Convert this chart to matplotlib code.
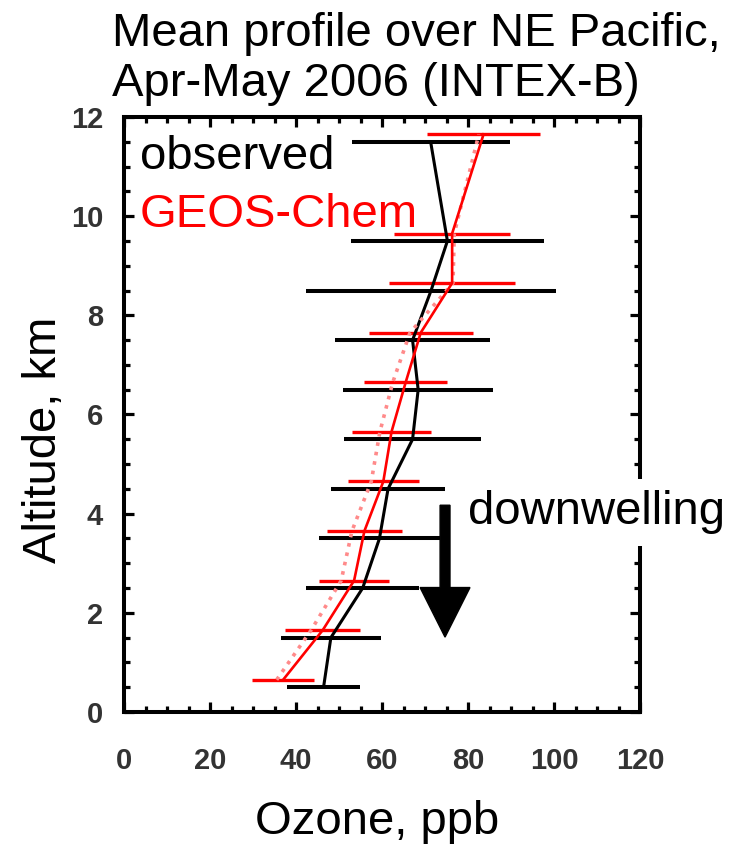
"""Mean ozone profile over the NE Pacific, observed vs GEOS-Chem (INTEX-B)."""

import matplotlib

matplotlib.use("Agg")
import matplotlib.pyplot as plt
import numpy as np
from matplotlib.ticker import MultipleLocator

# altitude bins, km
altitude = [0.5, 1.5, 2.5, 3.5, 4.5, 5.5, 6.5, 7.5, 8.5, 9.5, 11.5]

# observed ozone, ppb (mean and standard deviation)
obs_mean = [46.4, 48.1, 55.5, 59.4, 61.4, 67.1, 68.4, 67.1, 71.4, 75.2, 71.3]
obs_std = [8.5, 11.6, 13.1, 14.1, 13.3, 15.9, 17.4, 18.0, 29.0, 22.4, 18.4]

# GEOS-Chem ozone, ppb
model_mean = [37.0, 46.2, 53.5, 55.9, 60.3, 62.2, 65.5, 69.0, 76.3, 76.3, 83.6]
model_std = [7.2, 8.7, 8.1, 8.7, 8.3, 9.2, 9.7, 12.1, 14.7, 13.5, 13.2]
model_alt_mean = [35.5, 43.5, 50.5, 53.0, 57.5, 59.5, 62.5, 66.5, 76.5, 76.8, 82.5]

x_ticks = [0, 20, 40, 60, 80, 100, 120]
y_ticks = [0, 2, 4, 6, 8, 10, 12]

MODEL_SHIFT = 0.15  # small vertical offset so the two sets of bars don't overlap


def main():
    plt.rcParams["font.family"] = ["Liberation Sans", "DejaVu Sans"]
    fig = plt.figure(figsize=(7.33, 8.44), dpi=100)
    ax = fig.add_axes([0.1692, 0.1564, 0.7040, 0.7050])

    alt = np.array(altitude)
    alt_model = alt + MODEL_SHIFT

    ax.errorbar(obs_mean, alt, xerr=obs_std, fmt="none", ecolor="black",
                elinewidth=2.9, capsize=0, zorder=2)
    ax.errorbar(model_mean, alt_model, xerr=model_std, fmt="none", ecolor="red",
                elinewidth=2.4, capsize=0, zorder=2.1)
    ax.plot(obs_mean, alt, color="black", lw=2.2, zorder=3)
    ax.plot(model_alt_mean, alt_model, color="#ff8a8a", lw=2.6, ls=":", zorder=3)
    ax.plot(model_mean, alt_model, color="red", lw=1.9, zorder=3.1)

    ax.set_xlim(0, 120)
    ax.set_ylim(0, 12)
    ax.set_xticks(x_ticks)
    ax.set_yticks(y_ticks)
    ax.xaxis.set_minor_locator(MultipleLocator(5))
    ax.yaxis.set_minor_locator(MultipleLocator(0.5))
    ax.tick_params(which="both", direction="in", top=True, right=True,
                   width=2.3, color="black")
    ax.tick_params(which="major", length=7.5)
    ax.tick_params(which="minor", length=4.5)
    ax.tick_params(axis="x", which="major", pad=25, labelsize=21,
                   labelcolor="#333333")
    ax.tick_params(axis="y", which="major", pad=15, labelsize=21,
                   labelcolor="#333333")
    for label in ax.get_xticklabels() + ax.get_yticklabels():
        label.set_fontweight("bold")
    for spine in ax.spines.values():
        spine.set_linewidth(2.9)

    ax.set_xlabel("Ozone, ppb", fontsize=34)
    ax.xaxis.set_label_coords(0.491, -0.148)
    ax.set_ylabel("Altitude, km", fontsize=34)
    ax.yaxis.set_label_coords(-0.112, 0.457)

    ax.text(0.031, 0.933, "observed", transform=ax.transAxes, fontsize=34,
            color="black", va="center", ha="left")
    ax.text(0.031, 0.836, "GEOS-Chem", transform=ax.transAxes, fontsize=34,
            color="red", va="center", ha="left")

    # downwelling annotation
    ax.arrow(74.65, 4.17, 0, -2.66, width=2.3, head_width=11.6, head_length=1.0,
             length_includes_head=True, color="black", zorder=4)
    ax.text(80, 4.03, "downwelling", fontsize=34, va="center", ha="left",
            bbox=dict(facecolor="white", edgecolor="none", pad=8),
            zorder=6, clip_on=False)

    fig.text(112 / 733, 1 - 12 / 844,
             "Mean profile over NE Pacific,\nApr-May 2006 (INTEX-B)",
             fontsize=34, va="top", ha="left", linespacing=1.17)

    fig.savefig("out.png", dpi=100)


if __name__ == "__main__":
    main()
